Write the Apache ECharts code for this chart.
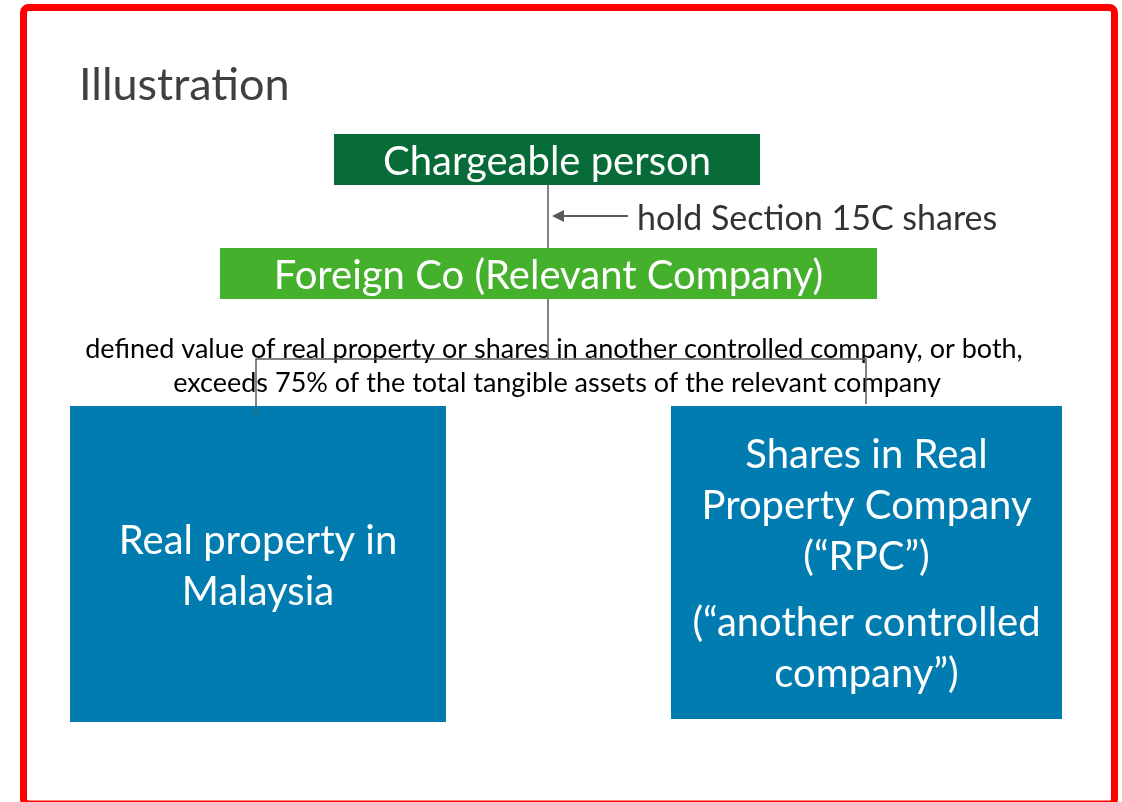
<!DOCTYPE html>
<html>
<head>
<meta charset="utf-8">
<title>Illustration</title>
<script src="https://cdn.jsdelivr.net/npm/echarts@6/dist/echarts.min.js"></script>
<style>
html, body { margin: 0; padding: 0; background: #fff; }
#chart { width: 1122px; height: 802px; }
</style>
</head>
<body>
<div id="chart"></div>
<script>
// slide units: x 0..1122 to the right, y 0..802 downwards

// boxes of the structure chart
const boxKinds = ['person', 'company', 'asset', 'asset']
const boxLines = [
  [['Chargeable person']],
  [['Foreign Co (Relevant Company)']],
  [['Real property in', 'Malaysia']],
  [['Shares in Real', 'Property Company', '(“RPC”)'], ['(“another controlled', 'company”)']]
]
const boxLeft = [334, 220, 70, 671]
const boxTop = [134, 248, 406, 406]
const boxRight = [760, 877, 446, 1062]
const boxBottom = [185, 299, 722, 719]

// connectors
const links = [
  [[548, 185], [548, 248]],
  [[548, 299], [548, 359]],
  [[256, 414], [256, 359], [866, 359], [866, 404]]
]
const arrowLink = [[628, 216], [558, 216]]

// notes
const holdNote = 'hold Section 15C shares'
const holdAt = [637, 219]
const testLines = [
  'defined value of real property or shares in another controlled company, or both,',
  'exceeds 75% of the total tangible assets of the relevant company'
]
const testX = [554, 557]
const testY = [349, 383]

// frame round the slide
const frameRect = [23.5, 7.5, 1114.5, 804]

const FONT = 'Lato, "Open Sans", sans-serif'
const boxColors = {
  person: '#076B38',
  company: '#44B02C',
  asset: '#007CB0'
}

const chart = echarts.init(document.getElementById('chart'))

function renderBox(params, api) {
  const i = api.value(4)
  const p0 = api.coord([api.value(0), api.value(1)])
  const p1 = api.coord([api.value(2), api.value(3)])
  const cx = (p0[0] + p1[0]) / 2
  const cy = (p0[1] + p1[1]) / 2 + 2.5
  const paras = boxLines[i]
  const lineH = 51
  const paraGap = 15
  let count = 0
  paras.forEach(p => count += p.length)
  const total = count * lineH + (paras.length - 1) * paraGap
  let y = cy - total / 2 + lineH / 2
  const children = [{
    type: 'rect',
    shape: {x: p0[0], y: p0[1], width: p1[0] - p0[0], height: p1[1] - p0[1]},
    style: {fill: boxColors[boxKinds[i]]}
  }]
  paras.forEach(p => {
    p.forEach(line => {
      children.push({
        type: 'text',
        x: cx,
        y: y,
        style: {
          text: line,
          fill: '#fff',
          fontSize: 40,
          fontFamily: FONT,
          textAlign: 'center',
          textVerticalAlign: 'middle'
        }
      })
      y += lineH
    })
    y += paraGap
  })
  return {type: 'group', children: children}
}

function renderNote(params, api) {
  const p = api.coord([api.value(0), api.value(1)])
  return {
    type: 'text',
    x: p[0],
    y: p[1],
    style: {
      text: testLines[api.value(2)],
      fill: '#000',
      fontSize: 27,
      fontFamily: FONT,
      textAlign: 'center',
      textVerticalAlign: 'middle'
    }
  }
}

function renderHold(params, api) {
  const p = api.coord([api.value(0), api.value(1)])
  return {
    type: 'text',
    x: p[0],
    y: p[1],
    style: {
      text: holdNote,
      fill: '#333',
      fontSize: 34,
      fontFamily: FONT,
      textAlign: 'left',
      textVerticalAlign: 'middle'
    }
  }
}

function renderFrame(params, api) {
  const p0 = api.coord([api.value(0), api.value(1)])
  const p1 = api.coord([api.value(2), api.value(3)])
  return {
    type: 'rect',
    shape: {x: p0[0], y: p0[1], width: p1[0] - p0[0], height: p1[1] - p0[1], r: 5},
    style: {fill: 'none', stroke: '#FF0000', lineWidth: 7}
  }
}

const option = {
  animation: false,
  title: {
    text: 'Illustration',
    left: 74,
    top: 58,
    textStyle: {
      fontSize: 45,
      fontWeight: 'normal',
      fontFamily: FONT,
      color: '#404040'
    }
  },
  grid: {left: 0, right: 0, top: 0, bottom: 0},
  xAxis: {type: 'value', min: 0, max: 1122, show: false},
  yAxis: {type: 'value', min: 0, max: 802, inverse: true, show: false},
  series: [
    {
      type: 'custom',
      name: 'frame',
      renderItem: renderFrame,
      encode: {x: [0, 2], y: [1, 3]},
      data: [frameRect],
      z: 1
    },
    {
      type: 'custom',
      name: 'notes',
      renderItem: renderNote,
      encode: {x: 0, y: 1},
      data: testLines.map((t, i) => [testX[i], testY[i], i]),
      z: 2
    },
    {
      type: 'custom',
      name: 'hold',
      renderItem: renderHold,
      encode: {x: 0, y: 1},
      data: [holdAt],
      z: 2
    },
    {
      type: 'custom',
      name: 'boxes',
      renderItem: renderBox,
      encode: {x: [0, 2], y: [1, 3]},
      data: boxKinds.map((k, i) => [boxLeft[i], boxTop[i], boxRight[i], boxBottom[i], i]),
      z: 3
    },
    {
      type: 'lines',
      name: 'links',
      coordinateSystem: 'cartesian2d',
      polyline: true,
      symbol: 'none',
      lineStyle: {color: '#595959', width: 1.5, opacity: 1},
      data: links.map(c => ({coords: c})),
      z: 4
    },
    {
      type: 'lines',
      name: 'arrow',
      coordinateSystem: 'cartesian2d',
      symbol: ['none', 'triangle'],
      symbolSize: [0, 12],
      lineStyle: {color: '#555A5F', width: 2, opacity: 1},
      data: [{coords: arrowLink}],
      z: 4
    }
  ]
}

chart.setOption(option)
</script>
</body>
</html>
